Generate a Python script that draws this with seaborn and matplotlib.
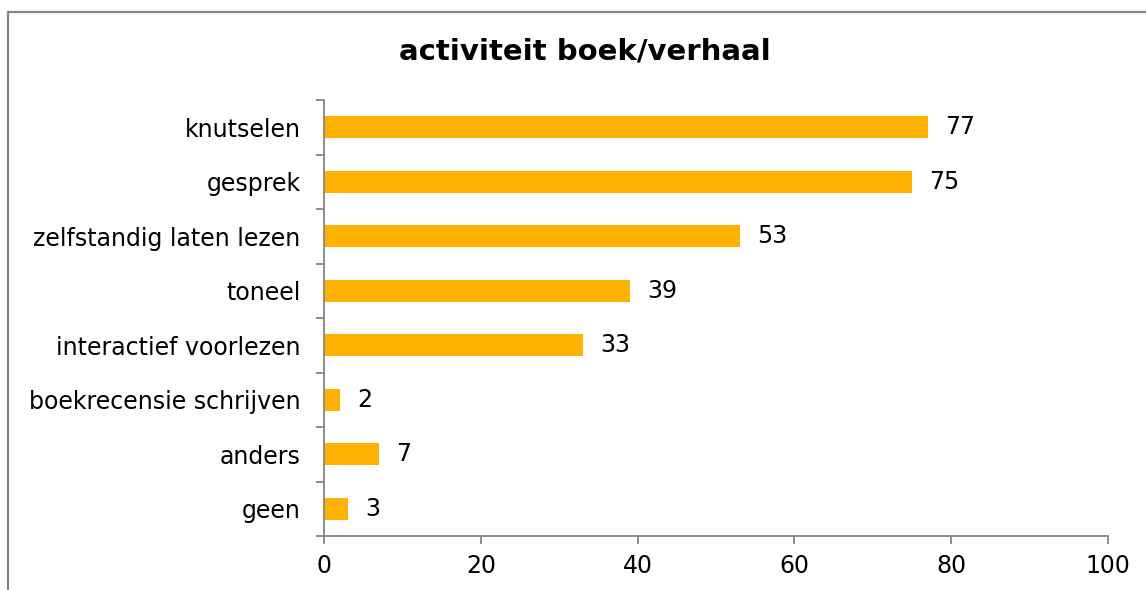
import pandas as pd
import seaborn as sns
import matplotlib.pyplot as plt
from matplotlib.patches import Rectangle

# values
activities = ['knutselen', 'gesprek', 'zelfstandig laten lezen', 'toneel',
              'interactief voorlezen', 'boekrecensie schrijven', 'anders', 'geen']
counts = [77, 75, 53, 39, 33, 2, 7, 3]
x_ticks = [0, 20, 40, 60, 80, 100]

data = pd.DataFrame({'Activiteit': activities, 'Aantal': counts})

sns.set_style('white')
plt.rcParams['font.family'] = ['DejaVu Sans']
plt.rcParams['text.color'] = 'black'
plt.rcParams['xtick.labelcolor'] = 'black'
plt.rcParams['ytick.labelcolor'] = 'black'

fig = plt.figure(figsize=(11.46, 5.9), dpi=100)
ax = fig.add_axes([324 / 1146, 54 / 590, 784 / 1146, 436 / 590])

sns.barplot(data=data, x='Aantal', y='Activiteit', order=activities,
            color='#FFB300', saturation=1, width=0.4, orient='h',
            linewidth=0, ax=ax)

# value labels next to the bars
for i, v in enumerate(counts):
    ax.text(v + 2.2, i, str(v), va='center', ha='left', fontsize=17, color='black')

ax.set_xlim(0, 100)
ax.set_ylim(len(activities) - 0.5, -0.5)
ax.set_xticks(x_ticks)
ax.set_xlabel('')
ax.set_ylabel('')

gray = '#868686'
for side in ['top', 'right']:
    ax.spines[side].set_visible(False)
for side in ['left', 'bottom']:
    ax.spines[side].set_color(gray)
    ax.spines[side].set_linewidth(1.3)

# y ticks sit between the categories, like in Excel
ax.set_yticks([i + 0.5 for i in range(-1, len(activities))], minor=True)
ax.tick_params(axis='y', which='major', length=0, pad=17, labelsize=17)
ax.tick_params(axis='y', which='minor', left=True, length=6, width=1.3, color=gray)
ax.tick_params(axis='x', which='major', bottom=True, length=6, width=1.3, color=gray,
               pad=7, labelsize=17)

fig.suptitle('activiteit boek/verhaal', x=585 / 1146, y=1 - 52 / 590, va='center',
             fontsize=21, fontweight='bold', color='black')

# grey chart-area frame
fig.patches.append(Rectangle((8 / 1146, -0.1), 1.1, 1 - 12.5 / 590 + 0.1,
                             transform=fig.transFigure, fill=False,
                             edgecolor=gray, linewidth=1.6, zorder=-1))

plt.savefig('out.png', dpi=100)
